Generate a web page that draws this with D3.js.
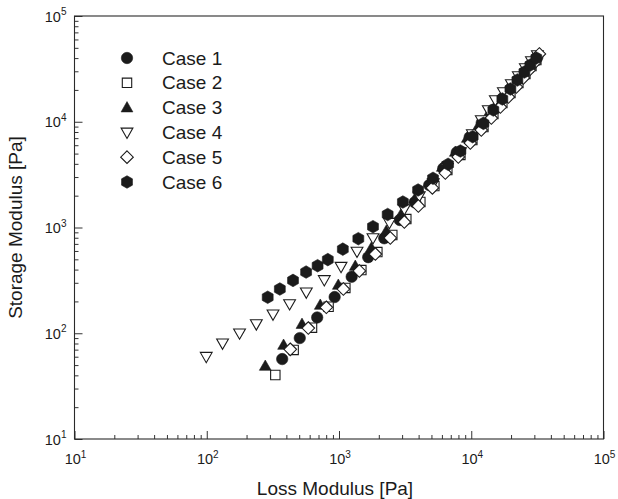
<!DOCTYPE html>
<html>
<head>
<meta charset="utf-8">
<script src="https://cdn.jsdelivr.net/npm/d3@7"></script>
<style>
  body { margin: 0; background: #fff; }
  svg { display: block; font-family: "Liberation Sans", Arial, sans-serif; }
</style>
</head>
<body>
<svg id="chart" width="618" height="499"></svg>
<script>
// Loss modulus G'' (x) and storage modulus G' (y), both in Pa
const case1Loss = [372, 505, 684, 927, 1247, 1663, 2198, 2877, 3733, 4808, 6138, 7762, 9727, 11995, 14521, 17298, 20230, 23442, 26977, 31623];
const case1Storage = [57, 90, 141, 220, 342, 524, 791, 1178, 1730, 2518, 3614, 5117, 7145, 9750, 12940, 16750, 21130, 26300, 32360, 40930];

const case2Loss = [330, 454, 625, 834, 1117, 1476, 1950, 2529, 3228, 4121, 5260, 6592, 8279, 10190, 12360, 14690, 17180, 19770, 22700, 25650, 28510, 31050];
const case2Storage = [40.3, 69.5, 113, 178, 268, 396, 586, 849, 1202, 1742, 2466, 3499, 4853, 6714, 8913, 11830, 15030, 18710, 23230, 28310, 33650, 38370];

const case3Loss = [277, 381, 525, 722, 988, 1328, 1755, 2278, 2958, 3776, 4819, 6043, 7580, 9340, 11320, 13460, 15740, 18110, 20800, 23500, 26550, 29510];
const case3Storage = [49, 77.4, 122, 185, 286, 432, 640, 927, 1342, 1901, 2692, 3733, 5176, 7015, 9120, 11830, 15030, 18710, 22750, 27090, 32230, 37540];

const case4Loss = [99.1, 131.7, 177, 237, 317, 423, 566, 774, 1036, 1368, 1807, 2404, 3119, 4047, 5164, 6592, 8279, 10190, 11910, 13460, 15210, 17490, 20090, 22700, 25650, 28510, 31620];
const case4Storage = [60, 80.4, 100, 122, 151, 189, 244, 319, 426, 593, 796, 1110, 1496, 1986, 2635, 3655, 5176, 7656, 10390, 12910, 16060, 19110, 22750, 27090, 32230, 37540, 42780];

const case5Loss = [428, 586, 802, 1079, 1426, 1884, 2443, 3119, 3981, 5082, 6368, 7980, 9840, 11910, 14190, 16600, 19100, 21930, 24770, 27480, 29990, 32730];
const case5Storage = [70.5, 112, 176, 262, 388, 561, 796, 1127, 1596, 2366, 3273, 4645, 6295, 8356, 10840, 13780, 17140, 21320, 25940, 30850, 35940, 43750];

const case6Loss = [289, 357, 449, 564, 689, 823, 1069, 1400, 1807, 2333, 3041, 3963, 5140, 6683, 8279, 10250, 12360, 14690, 17180, 19770, 22330, 25230, 27990, 31050];
const case6Storage = [219, 262, 316, 379, 435, 497, 624, 784, 1018, 1327, 1742, 2263, 2919, 3960, 5289, 7223, 9660, 12910, 16410, 20400, 24830, 29530, 34410, 40090];

const caseNames = ["Case 1", "Case 2", "Case 3", "Case 4", "Case 5", "Case 6"];
const markerShapes = ["circle", "square", "triangleUp", "triangleDown", "diamond", "hexagon"];
const markerFilled = [true, false, true, false, false, true];
const decadeExponents = [1, 2, 3, 4, 5];

const xTitle = "Loss Modulus [Pa]";
const yTitle = "Storage Modulus [Pa]";

const lossSeries = [case1Loss, case2Loss, case3Loss, case4Loss, case5Loss, case6Loss];
const storageSeries = [case1Storage, case2Storage, case3Storage, case4Storage, case5Storage, case6Storage];

const series = caseNames.map((name, i) => ({
  name,
  shape: markerShapes[i],
  filled: markerFilled[i],
  points: lossSeries[i].map((g2, j) => ({ x: g2, y: storageSeries[i][j] }))
}));

const ink = "#1b1b1b";
const plot = { left: 74.5, right: 603.5, top: 16, bottom: 439 };

const svg = d3.select("#chart");

const x = d3.scaleLog().domain([10, 1e5]).range([plot.left, plot.right]);
const y = d3.scaleLog().domain([10, 1e5]).range([plot.bottom, plot.top]);

const majorTicks = decadeExponents.map(e => Math.pow(10, e));
const minorTicks = [];
decadeExponents.slice(0, -1).forEach(e => {
  for (let k = 2; k <= 9; k++) minorTicks.push(k * Math.pow(10, e));
});

// marker path generators, centred on the origin
function markerPath(shape) {
  const p = d3.path();
  if (shape === "circle") {
    p.arc(0, 0, 5.7, 0, 2 * Math.PI);
  } else if (shape === "square") {
    p.rect(-4.7, -4.7, 9.4, 9.4);
  } else if (shape === "triangleUp") {
    p.moveTo(0, -6); p.lineTo(5.9, 4.3); p.lineTo(-5.9, 4.3); p.closePath();
  } else if (shape === "triangleDown") {
    p.moveTo(0, 6); p.lineTo(5.9, -4.3); p.lineTo(-5.9, -4.3); p.closePath();
  } else if (shape === "diamond") {
    p.moveTo(0, -6.3); p.lineTo(6.3, 0); p.lineTo(0, 6.3); p.lineTo(-6.3, 0); p.closePath();
  } else if (shape === "hexagon") {
    for (let k = 0; k < 6; k++) {
      const a = Math.PI / 2 + k * Math.PI / 3;
      const px = 6.3 * Math.cos(a), py = 6.3 * Math.sin(a);
      if (k === 0) p.moveTo(px, py); else p.lineTo(px, py);
    }
    p.closePath();
  }
  return p.toString();
}

function styleMarker(sel, s) {
  sel.attr("d", markerPath(s.shape))
    .attr("fill", s.filled ? ink : "#fff")
    .attr("stroke", ink)
    .attr("stroke-width", s.filled ? 0.6 : 1.1);
}

// axes with inward ticks: long majors, short minors
const gx = svg.append("g").attr("transform", `translate(0,${plot.bottom})`);
gx.call(d3.axisBottom(x).tickValues(minorTicks).tickSize(-4).tickFormat(""));
gx.append("g").call(d3.axisBottom(x).tickValues(majorTicks).tickSize(-8).tickFormat(""));

const gy = svg.append("g").attr("transform", `translate(${plot.left},0)`);
gy.call(d3.axisLeft(y).tickValues(minorTicks).tickSize(-4).tickFormat(""));
gy.append("g").call(d3.axisLeft(y).tickValues(majorTicks).tickSize(-8).tickFormat(""));

svg.selectAll(".domain").remove();
svg.selectAll(".tick line").attr("stroke", "#333").attr("stroke-width", 1);

// plot frame
svg.append("rect")
  .attr("x", plot.left).attr("y", plot.top)
  .attr("width", plot.right - plot.left).attr("height", plot.bottom - plot.top)
  .attr("fill", "none").attr("stroke", "#2a2a2a").attr("stroke-width", 1.1);

// power-of-ten tick labels
function powerLabel(g, exponent) {
  g.append("tspan").text("10");
  g.append("tspan").attr("font-size", 10).attr("dy", -6.5).text(exponent);
}

decadeExponents.forEach(e => {
  const v = Math.pow(10, e);
  const tx = svg.append("text")
    .attr("x", x(v) + 1).attr("y", plot.bottom + 25)
    .attr("text-anchor", "middle")
    .attr("font-size", 14.5).attr("fill", ink);
  powerLabel(tx, e);

  const ty = svg.append("text")
    .attr("x", plot.left - 8).attr("y", y(v) + 5.5)
    .attr("text-anchor", "end")
    .attr("font-size", 14.5).attr("fill", ink);
  powerLabel(ty, e);
});

// axis titles
svg.append("text")
  .attr("x", (plot.left + plot.right) / 2 - 4).attr("y", 495)
  .attr("text-anchor", "middle")
  .attr("font-size", 19).attr("fill", ink)
  .text(xTitle);

svg.append("text")
  .attr("transform", `translate(22,${(plot.top + plot.bottom) / 2}) rotate(-90)`)
  .attr("text-anchor", "middle")
  .attr("font-size", 19).attr("fill", ink)
  .text(yTitle);

// data markers
svg.append("clipPath").attr("id", "plot-clip")
  .append("rect")
  .attr("x", plot.left).attr("y", plot.top)
  .attr("width", plot.right - plot.left).attr("height", plot.bottom - plot.top);

const marks = svg.append("g").attr("clip-path", "url(#plot-clip)");
series.forEach(s => {
  marks.append("g")
    .selectAll("path")
    .data(s.points)
    .join("path")
    .attr("transform", d => `translate(${x(d.x)},${y(d.y)})`)
    .call(sel => styleMarker(sel, s));
});

// legend
const legend = svg.append("g").attr("transform", "translate(127,58)");
series.forEach((s, i) => {
  const row = legend.append("g").attr("transform", `translate(0,${i * 24.8})`);
  row.append("path").call(sel => styleMarker(sel, s));
  row.append("text")
    .attr("x", 35).attr("y", 6.5)
    .attr("font-size", 19).attr("fill", ink)
    .text(s.name);
});
</script>
</body>
</html>
